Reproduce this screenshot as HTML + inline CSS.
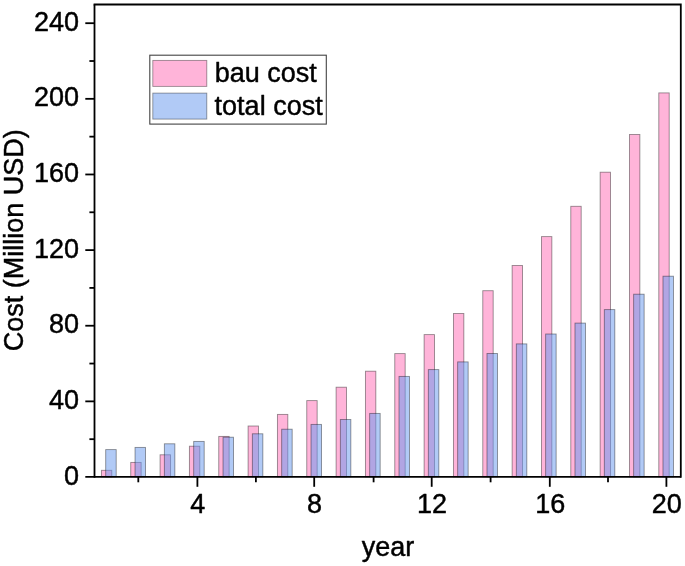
<!DOCTYPE html>
<html><head><meta charset="utf-8"><title>Cost chart</title>
<style>
html,body{margin:0;padding:0;background:#fff;}
body{width:685px;height:566px;overflow:hidden;}
svg{display:block;}
text{font-family:"Liberation Sans",Arial,sans-serif;font-size:27px;fill:#000;stroke:#000;stroke-width:0.45px;stroke-linejoin:round;}
</style></head><body>
<svg width="685" height="566" viewBox="0 0 685 566">
<rect x="0" y="0" width="685" height="566" fill="#ffffff"/>
<g stroke="#000" stroke-width="0.9" stroke-opacity="0.42" fill="#ff69b4" fill-opacity="0.5">
<rect x="101.40" y="470.30" width="10.40" height="6.50"/>
<rect x="130.74" y="462.40" width="10.40" height="14.40"/>
<rect x="160.07" y="454.80" width="10.40" height="22.00"/>
<rect x="189.41" y="446.20" width="10.40" height="30.60"/>
<rect x="218.75" y="436.40" width="10.40" height="40.40"/>
<rect x="248.09" y="426.00" width="10.40" height="50.80"/>
<rect x="277.42" y="414.40" width="10.40" height="62.40"/>
<rect x="306.76" y="400.60" width="10.40" height="76.20"/>
<rect x="336.10" y="387.20" width="10.40" height="89.60"/>
<rect x="365.43" y="371.20" width="10.40" height="105.60"/>
<rect x="394.77" y="353.60" width="10.40" height="123.20"/>
<rect x="424.11" y="334.60" width="10.40" height="142.20"/>
<rect x="453.44" y="313.50" width="10.40" height="163.30"/>
<rect x="482.78" y="290.70" width="10.40" height="186.10"/>
<rect x="512.12" y="265.50" width="10.40" height="211.30"/>
<rect x="541.46" y="236.60" width="10.40" height="240.20"/>
<rect x="570.79" y="206.30" width="10.40" height="270.50"/>
<rect x="600.13" y="172.20" width="10.40" height="304.60"/>
<rect x="629.47" y="134.50" width="10.40" height="342.30"/>
<rect x="658.80" y="92.90" width="10.40" height="383.90"/>
</g>
<g stroke="#000" stroke-width="0.9" stroke-opacity="0.42" fill="#6495ed" fill-opacity="0.5">
<rect x="105.70" y="449.60" width="10.50" height="27.20"/>
<rect x="135.03" y="447.40" width="10.50" height="29.40"/>
<rect x="164.36" y="443.80" width="10.50" height="33.00"/>
<rect x="193.69" y="441.40" width="10.50" height="35.40"/>
<rect x="223.02" y="437.20" width="10.50" height="39.60"/>
<rect x="252.35" y="433.80" width="10.50" height="43.00"/>
<rect x="281.68" y="429.20" width="10.50" height="47.60"/>
<rect x="311.01" y="424.40" width="10.50" height="52.40"/>
<rect x="340.34" y="419.50" width="10.50" height="57.30"/>
<rect x="369.67" y="413.40" width="10.50" height="63.40"/>
<rect x="399.00" y="376.40" width="10.50" height="100.40"/>
<rect x="428.33" y="369.60" width="10.50" height="107.20"/>
<rect x="457.66" y="361.90" width="10.50" height="114.90"/>
<rect x="486.99" y="353.50" width="10.50" height="123.30"/>
<rect x="516.32" y="343.90" width="10.50" height="132.90"/>
<rect x="545.65" y="334.00" width="10.50" height="142.80"/>
<rect x="574.98" y="323.10" width="10.50" height="153.70"/>
<rect x="604.31" y="309.60" width="10.50" height="167.20"/>
<rect x="633.64" y="294.20" width="10.50" height="182.60"/>
<rect x="662.97" y="276.20" width="10.50" height="200.60"/>
</g>
<g stroke="#000" stroke-width="1.8" fill="none" stroke-linecap="butt">
<path d="M93.60 4.50 H680.80 V477.70"/>
<path d="M94.50 4.50 V477.70"/>
<path d="M85.30 476.80 H680.80"/>
<path d="M89.4 439.18 H94.50"/>
<path d="M85.3 401.37 H94.50"/>
<path d="M89.4 363.55 H94.50"/>
<path d="M85.3 325.73 H94.50"/>
<path d="M89.4 287.92 H94.50"/>
<path d="M85.3 250.10 H94.50"/>
<path d="M89.4 212.28 H94.50"/>
<path d="M85.3 174.47 H94.50"/>
<path d="M89.4 136.65 H94.50"/>
<path d="M85.3 98.83 H94.50"/>
<path d="M89.4 61.02 H94.50"/>
<path d="M85.3 23.20 H94.50"/>
<path d="M138.30 476.80 V482.3"/>
<path d="M197.40 476.80 V486.8"/>
<path d="M255.90 476.80 V482.3"/>
<path d="M314.20 476.80 V486.8"/>
<path d="M373.60 476.80 V482.3"/>
<path d="M431.70 476.80 V486.8"/>
<path d="M490.60 476.80 V482.3"/>
<path d="M549.80 476.80 V486.8"/>
<path d="M608.00 476.80 V482.3"/>
<path d="M666.40 476.80 V486.8"/>
</g>
<text x="79.0" y="484.60" text-anchor="end">0</text>
<text x="79.0" y="408.97" text-anchor="end">40</text>
<text x="79.0" y="333.33" text-anchor="end">80</text>
<text x="79.0" y="257.70" text-anchor="end">120</text>
<text x="79.0" y="182.07" text-anchor="end">160</text>
<text x="79.0" y="106.43" text-anchor="end">200</text>
<text x="79.0" y="30.80" text-anchor="end">240</text>
<text x="197.80" y="513.3" text-anchor="middle">4</text>
<text x="314.60" y="513.3" text-anchor="middle">8</text>
<text x="432.10" y="513.3" text-anchor="middle">12</text>
<text x="550.20" y="513.3" text-anchor="middle">16</text>
<text x="666.80" y="513.3" text-anchor="middle">20</text>
<text x="387.9" y="555.9" text-anchor="middle">year</text>
<text transform="translate(22.9 240.2) rotate(-90)" text-anchor="middle">Cost (Million USD)</text>
<rect x="149.8" y="55.2" width="176.5" height="68.9" fill="#fff" stroke="#444" stroke-width="1.1"/>
<rect x="152.8" y="60.4" width="54" height="26" fill="#ff69b4" fill-opacity="0.5" stroke="#000" stroke-opacity="0.4" stroke-width="0.9"/>
<rect x="152.8" y="93.1" width="54" height="26" fill="#6495ed" fill-opacity="0.5" stroke="#000" stroke-opacity="0.4" stroke-width="0.9"/>
<text x="214.8" y="82.3">bau cost</text>
<text x="214.6" y="114.9">total cost</text>
</svg>
</body></html>
